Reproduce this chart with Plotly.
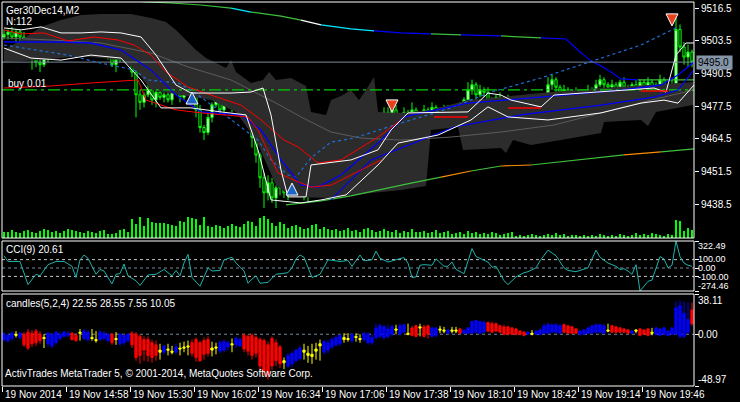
import plotly.graph_objects as go

W, H = 740, 402

# ---------------- main chart data: Ger30Dec14, M2 (bar 0 = 19 Nov 2014 14:26) -------------
first_open = 9505.0
close = [
    9506, 9507, 9505, 9507, 9505, 9504, 9500, 9497,
    9495, 9494, 9497, 9499, 9501, 9499, 9501, 9500,
    9499, 9502, 9501, 9504, 9506, 9505, 9507, 9504,
    9501, 9500, 9498, 9494, 9496, 9498, 9497, 9499,
    9491, 9482, 9479, 9482, 9484, 9480, 9483, 9481,
    9482, 9480, 9484, 9483, 9481, 9485, 9484, 9483,
    9476, 9469, 9467, 9473, 9478, 9480, 9476, 9478,
    9480, 9477, 9479, 9481, 9478, 9472, 9465, 9458,
    9449, 9443, 9447, 9441, 9445, 9448, 9443, 9446,
    9450, 9453, 9447, 9444, 9449, 9452, 9450, 9455,
    9452, 9457, 9455, 9459, 9462, 9460, 9464, 9461,
    9463, 9467, 9465, 9470, 9468, 9473, 9471, 9475,
    9472, 9476, 9470, 9473, 9475, 9469, 9476, 9474,
    9474, 9476, 9475, 9477, 9474, 9476, 9475, 9477,
    9476, 9475, 9477, 9480, 9484, 9486, 9482, 9484,
    9483, 9480, 9478, 9481, 9479, 9477, 9480, 9478,
    9479, 9477, 9480, 9478, 9476, 9479, 9477, 9480,
    9486, 9488, 9485, 9482, 9484, 9481, 9483, 9482,
    9483, 9481, 9484, 9482, 9486, 9488, 9486, 9485,
    9486, 9484, 9487, 9485, 9483, 9486, 9484, 9487,
    9485, 9487, 9483, 9486, 9488, 9484, 9481, 9486,
    9508, 9501, 9497, 9499, 9495,
]
wick_up = [
    2, 1, 2, 1, 1, 2, 1, 2,   1, 3, 2, 1, 2, 1, 1, 2,   1, 2, 1, 2, 1, 1, 2, 1,
    1, 2, 1, 2, 1, 1, 2, 2,   2, 1, 2, 1, 2, 1, 1, 2,   1, 2, 1, 2, 1, 3, 1, 2,
    1, 2, 1, 2, 1, 2, 1, 1,   2, 1, 3, 1, 1, 2, 1, 2,   1, 2, 3, 2, 1, 2, 3, 2,
    2, 3, 2, 1, 2, 3, 2, 2,   2, 1, 3, 2, 2, 1, 2, 1,   1, 3, 2, 1, 2, 3, 1, 2,
    2, 1, 2, 1, 2, 1, 3, 1,   1, 2, 1, 2, 1, 1, 2, 1,   1, 1, 2, 1, 3, 2, 1, 2,
    1, 2, 1, 1, 2, 1, 2, 1,   2, 1, 1, 2, 1, 2, 1, 2,   3, 2, 1, 1, 2, 1, 1, 2,
    1, 1, 2, 1, 2, 2, 1, 1,   2, 1, 1, 2, 1, 1, 2, 1,   1, 2, 1, 1, 2, 1, 1, 2,
    6, 2, 2, 3, 1,
]
wick_dn = [
    1, 2, 1, 2, 3, 1, 2, 5,   2, 3, 1, 2, 1, 2, 1, 1,   1, 1, 2, 1, 2, 1, 1, 2,
    2, 1, 2, 1, 3, 1, 2, 1,   2, 9, 3, 2, 1, 2, 3, 1,   2, 1, 2, 1, 2, 1, 2, 1,
    3, 2, 3, 1, 2, 1, 2, 1,   1, 2, 1, 1, 2, 3, 4, 3,   4, 6, 3, 2, 4, 3, 2, 3,
    2, 3, 2, 4, 5, 2, 3, 2,   2, 3, 1, 2, 2, 3, 1, 2,   2, 1, 2, 1, 3, 2, 1, 2,
    1, 2, 3, 1, 2, 1, 1, 2,   1, 1, 2, 1, 1, 2, 1, 1,   1, 2, 1, 1, 1, 2, 3, 1,
    2, 1, 2, 1, 1, 2, 1, 2,   1, 2, 1, 1, 2, 1, 2, 1,   1, 2, 2, 1, 1, 2, 1, 1,
    2, 1, 1, 2, 1, 1, 2, 1,   1, 2, 1, 1, 2, 1, 1, 2,   2, 1, 2, 1, 1, 2, 3, 2,
    1, 2, 3, 4, 2,
]
volume = [
    6, 6, 8, 6, 5, 7, 8, 6,   5, 7, 9, 8, 6, 7, 5, 7,   9, 8, 7, 6, 5, 7, 6, 5,
    7, 8, 4, 4, 5, 8, 9, 6,   19, 14, 21, 12, 20, 16, 15, 15,   15, 14, 13, 12, 17, 16, 21, 20,
    19, 13, 21, 12, 11, 13, 12, 10,   12, 14, 12, 11, 14, 17, 16, 12,   20, 22, 19, 15, 12, 16, 14, 10,
    12, 13, 11, 9, 10, 13, 14, 9,   11, 9, 8, 9, 7, 8, 10, 7,   8, 6, 9, 10, 8, 6, 7, 9,
    7, 6, 8, 5, 7, 6, 9, 6,   6, 7, 5, 6, 8, 5, 6, 7,   4, 5, 6, 4, 7, 5, 6, 4,
    5, 4, 6, 5, 3, 4, 5, 6,   2, 3, 2, 3, 4, 3, 2, 3,   4, 3, 5, 3, 4, 2, 3, 3,
    2, 3, 2, 3, 2, 4, 3, 2,   3, 2, 4, 3, 2, 3, 5, 3,   4, 3, 5, 4, 3, 2, 4, 3,
    18, 17, 7, 10, 8,
]

time_tick_bars = [0, 16, 32, 48, 64, 80, 96, 112, 128, 144, 160]
time_labels = ["19 Nov 2014", "19 Nov 14:58", "19 Nov 15:30", "19 Nov 16:02", "19 Nov 16:34",
               "19 Nov 17:06", "19 Nov 17:38", "19 Nov 18:10", "19 Nov 18:42", "19 Nov 19:14",
               "19 Nov 19:46"]
price_ticks = [9516.5, 9503.5, 9490.5, 9477.5, 9464.5, 9451.5, 9438.5]
last_price = 9495.0
buy_level = 9484.0

# ---------------- main-window indicators (bar index, price) ----------------
cloud_top_i = [0, 4.25, 9.25, 14.25, 19.25, 24.25, 31.75, 36.75, 40.5, 43, 45.5, 48, 50.5, 53, 55.5, 56.75,
               58, 61.75, 64.75, 66.25, 68, 71.75, 75.5, 76.75, 80.5, 81.75, 84.25, 86.75, 88.75, 90.5,
               92.5, 93.5, 99.25, 106.75, 116, 124.25, 136.75, 149.25, 161.75, 172.5]
cloud_top_p = [9499.8, 9503.8, 9509.0, 9511.7, 9513.7, 9514.1, 9514.1, 9512.5, 9510.9, 9507.8, 9503.8,
               9499.8, 9496.6, 9494.7, 9492.7, 9495.8, 9491.1, 9486.7, 9487.9, 9491.1, 9487.9, 9488.7,
               9485.5, 9475.2, 9474.0, 9479.9, 9481.5, 9483.9, 9479.9, 9483.9, 9489.1, 9475.2, 9474.8,
               9476.0, 9479.9, 9481.1, 9483.1, 9484.7, 9485.9, 9487.1]
cloud_bot_i = [0, 9.25, 19.25, 29.25, 33, 36.75, 44.25, 51.75, 58, 63, 68, 71.75, 81.75, 91.75, 99.25,
               105.5, 106.75, 113.5, 114.75, 124.25, 125.5, 127.25, 131.75, 139.25, 149.25, 150, 159.25,
               161, 163, 172.5]
cloud_bot_p = [9495.0, 9495.8, 9497.4, 9495.8, 9491.9, 9483.9, 9481.9, 9479.9, 9475.2, 9464.0, 9446.1,
               9441.4, 9441.0, 9443.0, 9444.2, 9445.7, 9468.0, 9469.2, 9460.1, 9460.9, 9458.9, 9464.0,
               9462.0, 9464.0, 9466.8, 9471.2, 9472.0, 9469.6, 9475.2, 9478.0]

gray_ma_i = [0, 11.75, 24.25, 36.75, 46, 56.75, 68.5, 74.25, 81.75, 89.25, 99.25, 111.75, 124.25, 137.5,
             149.25, 161.75, 172.5]
gray_ma_p = [9504.6, 9503.8, 9502.6, 9498.6, 9493.1, 9487.9, 9478.3, 9473.2, 9467.2, 9464.8, 9464.0,
             9465.2, 9467.2, 9470.0, 9474.8, 9479.9, 9483.9]

top_i = [24.25, 35.5, 41.75, 49.25, 56.75, 61.75, 69.25, 74.25, 79.25, 86.75, 92.5, 99.25, 106.75, 114.25,
         124.25, 134.25, 140.5, 143.5, 146.75, 149.25, 151.75, 154.25, 158.5, 166.75, 172.5]
top_p = [9520.9, 9518.9, 9518.5, 9517.7, 9516.5, 9514.9, 9513.3, 9511.7, 9509.8, 9508.2, 9507.4, 9506.6,
         9506.2, 9505.8, 9505.4, 9504.6, 9504.2, 9499.8, 9495.4, 9493.5, 9491.1, 9488.3, 9487.9, 9487.9,
         9487.9]
bot_i = [70.5, 74.25, 79.25, 86.75, 94.25, 101.75, 109.25, 116.75, 124.25, 131.75, 138.5, 146.75, 155,
         164.25, 172.5]
bot_p = [9438.2, 9439.0, 9439.8, 9441.8, 9444.2, 9446.9, 9449.3, 9451.7, 9453.7, 9454.1, 9455.3, 9456.5,
         9458.1, 9459.3, 9460.5]

dot_i = [0, 8.5, 16, 24.25, 32.5, 36, 43.5, 46.75, 54.25, 63.5, 66.75, 71, 73, 76.75, 81.75, 87.5, 99.25,
         111.75, 121.75, 134.25, 142.5, 151.75, 159.25, 168.5]
dot_p = [9501.8, 9499.8, 9497.8, 9494.6, 9491.9, 9487.9, 9486.7, 9483.9, 9475.2, 9464.0, 9456.1, 9450.1,
         9449.3, 9456.9, 9463.2, 9464.8, 9470.8, 9476.8, 9483.1, 9488.7, 9493.1, 9497.8, 9501.8, 9509.0]

blue1_i = [0, 5.5, 13.5, 21.75, 29.25, 36.75, 43, 49.25, 59.25, 64.25, 69.25, 74.25, 78.5, 84.25, 93.5,
           100, 116, 134.25, 154.25, 164.25, 168.5, 172.5]
blue1_p = [9503.0, 9503.0, 9503.0, 9502.6, 9499.8, 9491.9, 9481.9, 9475.2, 9474.0, 9468.0, 9456.1, 9446.1,
           9445.3, 9450.1, 9462.8, 9473.2, 9478.7, 9481.1, 9483.9, 9485.9, 9489.9, 9495.0]
blue2_i = [81.75, 91.75, 112.5, 129.25, 149.25, 162.5, 168.5, 172.5]
blue2_p = [9440.2, 9456.1, 9469.2, 9474.0, 9477.9, 9481.1, 9483.9, 9491.9]

red_up_i = [0, 4.25, 10, 16, 22.5, 28.5, 32.5, 36.75, 40.5, 46, 51.75, 59.25, 64.25, 70, 73.5, 78.5,
            84.25, 93.5, 99.25]
red_up_p = [9507.8, 9506.2, 9506.6, 9503.4, 9505.0, 9503.8, 9501.8, 9497.8, 9491.1, 9485.1, 9481.9,
            9477.9, 9472.0, 9464.0, 9461.3, 9454.9, 9456.1, 9465.2, 9472.0]
red_lo_i = [0, 11.75, 21.75, 33.5, 35.5, 43, 49.25, 61, 63.5, 68.5, 72.5, 76.75, 81.75, 89.25, 94.25]
red_lo_p = [9484.7, 9485.5, 9486.7, 9487.9, 9479.9, 9476.0, 9474.8, 9473.2, 9468.0, 9450.9, 9448.1,
            9445.3, 9446.1, 9452.1, 9456.1]
red_seg_i = [107.5, 116, None, 126, 134.25, None, 159.25, 166]
red_seg_p = [9473.2, 9473.2, None, 9476.8, 9476.8, None, 9483.5, 9483.5]

white_up_i = [0, 4.25, 9.25, 14.25, 19.25, 24.25, 29.25, 34.25, 38, 41, 43, 46.75, 56.75, 61.75, 64.75,
              66.75, 69.25, 71, 75.5, 76.75, 86.75, 93.5, 96.75, 101, 116, 121, 124.25, 126.75, 134.25,
              137.5, 149.25, 162.5, 165.5, 168, 170.5, 172.5]
white_up_p = [9508.6, 9507.8, 9509.0, 9506.6, 9506.6, 9507.0, 9506.6, 9505.0, 9497.8, 9490.7, 9485.9,
              9482.7, 9482.7, 9483.1, 9484.7, 9474.0, 9452.1, 9441.4, 9441.4, 9454.1, 9456.1, 9460.1,
              9468.0, 9474.8, 9475.2, 9482.7, 9481.9, 9479.9, 9477.2, 9481.9, 9483.1, 9484.7, 9483.1,
              9497.8, 9502.6, 9502.6]
white_lo_i = [0, 6.75, 14.25, 21.75, 29.25, 34.25, 39.25, 46.75, 54.25, 60.5, 63.5, 66.75, 74.25, 79.25,
              85.5, 93.5, 98.5, 108.5, 116.75, 121, 126, 136, 149.25, 159.25, 165, 168.5, 172.5]
white_lo_p = [9500.6, 9496.6, 9495.8, 9497.8, 9496.6, 9487.9, 9476.8, 9476.8, 9475.2, 9474.0, 9460.1,
              9440.2, 9439.0, 9440.2, 9442.2, 9454.1, 9462.8, 9466.0, 9472.0, 9477.2, 9473.2, 9472.0,
              9474.8, 9478.7, 9479.9, 9478.7, 9485.9]

buy_arrow_i = [47, 72]
buy_arrow_p = [9483.1, 9446.9]
sell_arrow_i = [97, 167]
sell_arrow_p = [9475.2, 9509.4]

# ---------------- CCI(9) ----------------
cci_i = [0, 1, 4, 6, 8, 9, 11, 13, 15, 17, 18, 19, 20, 21, 23, 24, 25, 27, 28, 29, 30, 31, 33, 34, 36, 38,
         40, 41, 42, 43, 44, 45, 46, 47, 49, 51, 52, 54, 55, 57, 58, 60, 61, 62, 63, 64, 66, 68, 71, 72, 73,
         74, 75, 77, 79, 81, 83, 84, 86, 87, 89, 90, 92, 93, 94, 96, 98, 99, 100, 101, 102, 103, 104, 105,
         107, 108, 110, 111, 112, 113, 115, 117, 118, 121, 122, 123, 125, 126, 128, 130, 131, 133, 134,
         136, 138, 140, 141, 143, 146, 148, 149, 151, 153, 154, 155, 156, 157, 158, 159, 161, 162, 164,
         165, 166, 167, 168, 169, 170, 171, 172]
cci_v = [147, 78, 78, -198, -75, -94, 40, 78, 78, 21, -113, 98, 155, 117, -75, -17, -36, -190, -75, -67,
         48, -94, -152, -209, -83, -75, -17, -56, -94, -29, -94, 59, 163, -113, -217, 2, -36, -29, 98, 128,
         59, -36, -182, -132, -94, -182, -171, -75, -56, 2, 109, 155, 128, -113, -75, 98, 86, 78, 90, 21,
         155, 86, 98, 201, 117, 71, 98, 109, 125, 59, -113, -106, 33, 40, 33, 109, 21, 21, 71, -17, -67,
         232, 136, 71, 9, 21, -152, -198, -106, -56, -44, 2, 86, 213, 147, 2, -29, -44, 2, 213, 128, 59,
         21, -17, -9, -36, -75, 40, -274.46, -159, -144, 136, 109, 2, 33, 322.49, 136, 59, 33, 20.61]
cci_levels = [100, 0, -100]
cci_max, cci_min = 322.49, -274.46

# ---------------- candles(5,2,4) ----------------
ch_state = list("bbbybrrr" "rrybbbbb" "brrybbyy" "bbbrybbb" "rrrrrrry" "byybyyyr" "rrrryybb"
                "bybbrrrr" "rrrrrryb" "bbbyyyyy" "bbbbbyyb" "yybbbbbb" "bbybbyrr" "yrrbbyyb"
                "yyrbbbbb" "brrrrrrr" "rrrbybbb" "bbbbrrrr" "bbbbbbby" "rrrrrbyr" "rrybbbbb" "bbbbr")
ch_o = [0, -1, 1, 0, 1, 0, 2, 1,   3, 0, -3, 1, 0, 2, 0, 2,   1, 1, -1, 2, 3, 2, -3, -5,
        2, 1, 0, 0, -4, 0, -1, 0,   1, 0, -2, -5, -5, -8, -10, -15,   -11, -14, -16, -12, -13, -12, -11, -8,
        -5, -8, -6, -5, -13, -12, -8, -7,   -8, -9, -4, -5, -1, -2, -1, -3,   -5, -6, -10, -4, -8, -12, -25, -20,
        -18, -15, -13, -15, -18, -19, -14, -9,   -7, -8, -5, -3, -1, -3, -4, 0,   -2, -4, 1, 0, -3, 6, 8, 7,
        5, 7, 5, 8, 9, 1, 6, 8,   7, 7, 8, 6, 6, 5, 4, 4,   4, 4, 5, 4, 6, 12, 13, 12,
        11, 11, 10, 10, 8, 7, 7, 6,   5, 3, 2, 2, 1, 3, 4, 8,   9, 9, 9, 8, 9, 8, 7, 5,
        3, 4, 6, 8, 9, 9, 8, 4,   8, 7, 6, 5, 4, 3, 4, 5,   4, 5, 2, 6, 5, 6, 3, 6,
        25, 27, 20, 14, 23]
ch_c = [-5, -6, -4, -1, -3, -10, -13, -9,   -8, -6, -4, -9, -11, -8, -4, -2,   -1, -5, -6, 1, -4, -5, -4, -6,
        -5, -4, -6, -8, -5, -9, -8, -6,   -10, -22, -20, -15, -20, -22, -20, -17,   -17, -15, -17, -17, -14, -13, -12, -18,
        -22, -25, -19, -18, -15, -13, -16, -15,   -12, -10, -10, -11, -14, -16, -20, -18,   -30, -35, -38, -30, -25, -28, -27, -30,
        -28, -25, -23, -17, -20, -21, -16, -11,   -17, -15, -12, -10, -9, -5, -5, -6,   -3, -5, -5, -8, -8, -3, -2, -3,
        -2, 0, 4, 0, 2, 0, -1, -2,   6, -2, 0, -2, -1, 4, 3, 1,   3, 3, 1, 1, 1, 1, 2, 1,
        2, 3, 2, 3, 2, 0, 0, 0,   0, 0, -1, 0, 0, 0, 0, 1,   1, 2, 2, 1, 2, 1, 1, 1,
        0, 0, 1, 1, 2, 2, 1, 3,   2, 2, 2, 2, 1, 1, 3, -1,   0, -1, 1, 0, -1, 0, -1, 0,
        0, -2, -2, 2, 10]
ch_h = [2, 1, 3, 3, 2, 2, 5, 4,   5, 3, 0, 2, 1, 3, 2, 3,   3, 2, 1, 5, 5, 4, 5, 3,
        4, 3, 1, 1, 2, 1, 0, 1,   3, 2, 0, -2, -2, -5, -6, -9,   -10, -9, -11, -9, -8, -7, -6, -5,
        -3, -6, -3, -2, -7, -8, -6, -5,   -6, -4, -2, -3, 1, 0, 1, -1,   -3, -4, -7, -2, -5, -10, -22, -18,
        -16, -14, -11, -9, -11, -9, -8, -5,   -5, -5, -3, -1, 0, 1, 1, 1,   1, 0, 2, 2, 0, 10, 10, 9,
        9, 9, 9, 10, 10, 10, 8, 9,   10, 9, 9, 7, 7, 8, 7, 5,   7, 7, 6, 5, 7, 13, 13, 13,
        13, 12, 12, 11, 9, 9, 8, 7,   6, 4, 3, 3, 4, 4, 6, 10,   11, 10, 10, 10, 10, 9, 8, 6,
        4, 5, 7, 9, 10, 10, 10, 10,   9, 8, 7, 6, 5, 4, 5, 6,   5, 6, 6, 7, 6, 7, 4, 7,
        31, 32, 31, 30, 30]
ch_l = [-7, -8, -6, -3, -5, -12, -15, -12,   -11, -9, -13, -12, -13, -10, -6, -3,   -3, -6, -7, -6, -6, -7, -6, -8,
        -6, -6, -8, -10, -10, -11, -10, -8,   -13, -25, -28, -25, -26, -27, -25, -24,   -19, -20, -19, -19, -20, -17, -20, -21,
        -26, -26, -24, -21, -21, -19, -18, -17,   -15, -17, -13, -12, -17, -20, -24, -22,   -34, -40, -43, -34, -30, -32, -33, -32,
        -31, -27, -25, -24, -27, -28, -24, -25,   -19, -18, -14, -12, -11, -8, -7, -8,   -7, -8, -7, -10, -10, -5, -4, -5,
        -4, -2, 0, -1, 1, -1, -2, -3,   -2, -3, -4, -3, -3, 1, 1, 0,   1, 1, 0, 0, 0, 0, 1, 0,
        1, 2, 1, 2, 1, -1, -1, -1,   -1, -1, -2, -1, -1, -1, -1, 0,   0, 1, 1, 0, 1, 0, 0, 0,
        -1, -1, 0, 0, 1, 1, 0, 2,   1, 1, 1, 1, 0, 0, 1, -2,   -1, -2, -1, -1, -2, -1, -2, -1,
        -1, -4, -4, 0, 8]
ch_max, ch_min = 38.11, -48.97

# ---------------- derived OHLC ----------------
n = len(close)
idx = list(range(n))
opens = [first_open] + close[:-1]
highs = [max(o, c) + u for o, c, u in zip(opens, close, wick_up)]
lows = [min(o, c) - d for o, c, d in zip(opens, close, wick_dn)]

# ---------------- layout geometry (pixels) ----------------
XL, XR = 2, 694
MAIN = (2, 238)
CCIP = (241, 291)
CND = (294, 386)
PX_PER_PT = 0.3976
Y_HI = 9518.9
Y_LO = Y_HI - (MAIN[1] - MAIN[0]) * PX_PER_PT


def X(p):
    return p / W


def Y(p):
    return 1 - p / H


GREEN = "#00FF00"
FONT = "Liberation Sans, Arial, sans-serif"

fig = go.Figure()


def line(xs, ys, color, width=1, dash=None, axis="y"):
    fig.add_trace(go.Scatter(x=xs, y=ys, mode="lines", xaxis="x", yaxis=axis,
                             line=dict(color=color, width=width, dash=dash),
                             hoverinfo="skip", connectgaps=False))


def seg_line(xs, ys, colors, width=1):
    k = 0
    while k < len(xs) - 1:
        j = k
        while j + 1 < len(colors) and colors[j + 1] == colors[k]:
            j += 1
        line(xs[k:j + 2], ys[k:j + 2], colors[k], width)
        k = j + 1


# cloud
fig.add_trace(go.Scatter(x=cloud_top_i + cloud_bot_i[::-1], y=cloud_top_p + cloud_bot_p[::-1],
                         fill="toself", fillcolor="#2c2c2c", mode="lines", line=dict(width=0),
                         xaxis="x", yaxis="y", hoverinfo="skip"))
line(gray_ma_i, gray_ma_p, "#5c5c5c")

LG, CY, BL, WH, OR = "#3cc03c", "#00e8ff", "#0000ff", "#ffffff", "#ff8c00"
top_cols = [LG, LG, LG, LG, CY, LG, LG, WH, CY, CY, BL, BL, LG, BL, LG, BL, BL, BL, BL, BL, BL, BL, LG, LG]
seg_line(top_i, top_p, top_cols, 1.2)
bot_cols = [LG, LG, LG, LG, LG, LG, OR, LG, OR, LG, LG, LG, OR, LG]
seg_line(bot_i, bot_p, bot_cols, 1.2)

# horizontal levels
line([-0.5, n - 0.5], [last_price, last_price], "#778899", 1)
line([-0.5, n - 0.5], [buy_level, buy_level], "#00d000", 1.2, "12px,4px,3px,4px")

line(dot_i, dot_p, "#1f6fd6", 1.2, "dot")
line(blue2_i, blue2_p, "#0000ff", 1.2)
line(blue1_i, blue1_p, "#0000ff", 1.3)
line(red_up_i, red_up_p, "#ff0000", 1)
line(red_lo_i, red_lo_p, "#ff0000", 1)
line(white_lo_i, white_lo_p, "#ffffff", 1)
line(white_up_i, white_up_p, "#ffffff", 1)
line(red_seg_i, red_seg_p, "#ff0000", 1.5)

# volumes
fig.add_trace(go.Bar(x=idx, y=volume, xaxis="x", yaxis="y4", width=0.25,
                     marker=dict(color=GREEN, line=dict(width=0)), hoverinfo="skip"))

# price candles
fig.add_trace(go.Candlestick(x=idx, open=opens, high=highs, low=lows, close=close,
                             xaxis="x", yaxis="y", whiskerwidth=0,
                             increasing=dict(line=dict(color=GREEN, width=1), fillcolor="#ffffff"),
                             decreasing=dict(line=dict(color=GREEN, width=1), fillcolor="#000000"),
                             hoverinfo="skip"))

# trade arrows
fig.add_trace(go.Scatter(x=buy_arrow_i, y=buy_arrow_p, mode="markers", xaxis="x", yaxis="y",
                         marker=dict(symbol="arrow-up", size=12, color="#1e64c8",
                                     line=dict(color="white", width=1)), hoverinfo="skip"))
fig.add_trace(go.Scatter(x=sell_arrow_i, y=sell_arrow_p, mode="markers", xaxis="x", yaxis="y",
                         marker=dict(symbol="arrow-down", size=12, color="#e8401c",
                                     line=dict(color="white", width=1)), hoverinfo="skip"))

# CCI
fig.add_trace(go.Scatter(x=cci_i, y=cci_v, mode="lines", xaxis="x", yaxis="y2",
                         line=dict(color="#20b2aa", width=1), hoverinfo="skip"))

# candles indicator
for state, col in (("b", "#0000ff"), ("r", "#ff0000"), ("y", "#ffff00")):
    sel = [i for i in idx if ch_state[i] == state]
    fig.add_trace(go.Candlestick(
        x=sel, open=[ch_o[i] for i in sel], high=[ch_h[i] for i in sel],
        low=[ch_l[i] for i in sel], close=[ch_c[i] for i in sel],
        xaxis="x", yaxis="y3", whiskerwidth=0,
        increasing=dict(line=dict(color=col, width=1), fillcolor=col),
        decreasing=dict(line=dict(color=col, width=1), fillcolor=col),
        hoverinfo="skip"))

shapes = []
for top, bot in (MAIN, CCIP, CND):
    shapes.append(dict(type="rect", xref="paper", yref="paper", x0=X(XL), x1=X(XR), y0=Y(bot), y1=Y(top),
                       line=dict(color="white", width=1), fillcolor="rgba(0,0,0,0)", layer="above"))
for lv in cci_levels:
    shapes.append(dict(type="line", xref="paper", yref="y2", x0=X(XL), x1=X(XR), y0=lv, y1=lv,
                       line=dict(color="#778899" if lv == 0 else "#c8c8c8", width=1, dash="3px,3px"),
                       layer="below"))
shapes.append(dict(type="line", xref="paper", yref="y3", x0=X(XL), x1=X(XR), y0=0, y1=0,
                   line=dict(color="#778899", width=1, dash="3px,3px"), layer="below"))

ann = []


def text(xp, yp, s, **kw):
    d = dict(x=X(xp), y=Y(yp), xref="paper", yref="paper", text=s, showarrow=False,
             xanchor="left", yanchor="middle", font=dict(color="white", size=10, family=FONT))
    d.update(kw)
    ann.append(d)


text(4, 10, "Ger30Dec14,M2")
text(4, 22, "N:112")
text(6, 84, "buy 0.01")
text(4, 249, "CCI(9) 20.61")
text(4, 303, "candles(5,2,4) 22.55 28.55 7.55 10.05")
text(3, 373, "ActivTrades MetaTrader 5, \u00a9 2001-2014, MetaQuotes Software Corp.")

for b, lab in zip(time_tick_bars, time_labels):
    ann.append(dict(x=b - 0.5, y=Y(394), xref="x", yref="paper", text=lab, showarrow=False,
                    xanchor="left", yanchor="middle", xshift=1,
                    font=dict(color="white", size=10, family=FONT)))

for v, lab, ya, ys in ((cci_max, "322.49", "top", 1), (100, "100.00", "middle", 1), (0, "0.00", "middle", 0),
                       (-100, "-100.00", "middle", -1), (cci_min, "-274.46", "bottom", -1)):
    ann.append(dict(x=X(697), y=v, xref="paper", yref="y2", text=lab, showarrow=False, yshift=ys,
                    xanchor="left", yanchor=ya, borderpad=0,
                    font=dict(color="white", size=9, family=FONT)))
for v, lab, ya in ((ch_max, "38.11", "top"), (0, "0.00", "middle"), (ch_min, "-48.97", "bottom")):
    ann.append(dict(x=X(697), y=v, xref="paper", yref="y3", text=lab, showarrow=False,
                    xanchor="left", yanchor=ya, borderpad=0,
                    font=dict(color="white", size=10, family=FONT)))

ann.append(dict(x=X(696), y=last_price, xref="paper", yref="y", text="9495.0 ", showarrow=False,
                xanchor="left", yanchor="middle", bgcolor="#8595a8", borderpad=1,
                font=dict(color="black", size=10, family=FONT)))

axis_common = dict(showgrid=False, zeroline=False, showline=False, fixedrange=True)

fig.update_layout(
    width=W, height=H, margin=dict(l=0, r=0, t=0, b=0, pad=0), autosize=False,
    paper_bgcolor="black", plot_bgcolor="black", showlegend=False, boxgap=0.2,
    font=dict(family=FONT, size=10, color="white"),
    xaxis=dict(domain=[X(XL), X(XR)], range=[-0.5, n - 0.5], anchor="y3", ticks="outside", ticklen=5,
               tickcolor="white", tickvals=[b - 0.5 for b in time_tick_bars], showticklabels=False,
               rangeslider=dict(visible=False), **axis_common),
    yaxis=dict(domain=[Y(MAIN[1]), Y(MAIN[0])], range=[Y_LO, Y_HI], side="right", anchor="x",
               ticks="outside", ticklen=4, tickcolor="white", tickvals=price_ticks,
               ticktext=[f"{v:.1f}" for v in price_ticks],
               tickfont=dict(color="white", size=10, family=FONT), automargin=False, **axis_common),
    yaxis4=dict(domain=[Y(MAIN[1]), Y(MAIN[0])], overlaying="y", range=[0, MAIN[1] - MAIN[0]],
                visible=False, fixedrange=True),
    yaxis2=dict(domain=[Y(CCIP[1]), Y(CCIP[0])], range=[cci_min, cci_max], side="right", anchor="x",
                ticks="outside", ticklen=4, tickcolor="white", tickvals=[cci_max] + cci_levels + [cci_min],
                showticklabels=False, automargin=False, **axis_common),
    yaxis3=dict(domain=[Y(CND[1]), Y(CND[0])], range=[ch_min, ch_max], side="right", anchor="x",
                ticks="outside", ticklen=4, tickcolor="white", tickvals=[ch_max, 0, ch_min],
                showticklabels=False, automargin=False, **axis_common),
    shapes=shapes, annotations=ann,
)

fig.write_html("out.html", config={"displayModeBar": False},
               post_script="document.body.style.margin='0';document.body.style.overflow='hidden';")
